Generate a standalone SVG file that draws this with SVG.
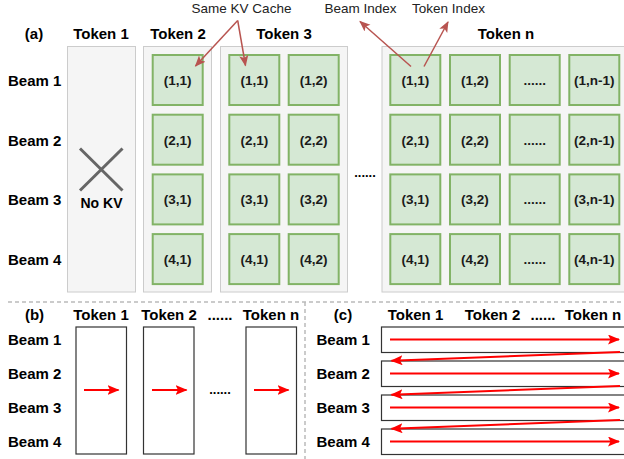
<svg xmlns="http://www.w3.org/2000/svg" width="624" height="459" viewBox="0 0 624 459">
  <style>
    text { font-family: "Liberation Sans", Arial, sans-serif; }
    .hd { font-size: 15px; font-weight: bold; fill: #000; text-anchor: middle; }
    .bm { font-size: 15px; font-weight: bold; fill: #000; }
    .note { font-size: 13.5px; fill: #222; text-anchor: middle; }
    .panel { fill: #f5f5f5; stroke: #cccccc; stroke-width: 1; }
    .kv rect { fill: #d5e8d4; stroke: #82b366; stroke-width: 2; }
    .kv text { font-size: 13.5px; font-weight: bold; fill: #1a1a1a; text-anchor: middle; }
    .sep { stroke: #bbbbbb; stroke-width: 1.5; stroke-dasharray: 4 3; fill: none; }
    .ann { stroke: #b85450; stroke-width: 1.5; fill: none; }
    .flow { stroke: #ff0000; stroke-width: 2; fill: none; }
    .box { fill: #ffffff; stroke: #333333; stroke-width: 1.2; }
  </style>
  <defs>
    <marker id="annHead" markerUnits="userSpaceOnUse" markerWidth="12" markerHeight="10" refX="10" refY="4.5" orient="auto">
      <path d="M0,0 L11,4.5 L0,9 L2.5,4.5 z" fill="#b85450"/>
    </marker>
    <marker id="redHead" markerUnits="userSpaceOnUse" markerWidth="13" markerHeight="11" refX="11" refY="5" orient="auto">
      <path d="M0,0 L12,5 L0,10 L2.5,5 z" fill="#ff0000"/>
    </marker>
  </defs>

  <!-- (a) headers -->
  <g id="a-headers">
    <text class="hd" x="34" y="39">(a)</text>
    <text class="hd" x="101" y="39">Token 1</text>
    <text class="hd" x="178" y="39">Token 2</text>
    <text class="hd" x="284" y="39">Token 3</text>
    <text class="hd" x="506" y="39">Token n</text>
  </g>
  <g id="a-beams">
    <text class="bm" x="8" y="86">Beam 1</text>
    <text class="bm" x="8" y="145.5">Beam 2</text>
    <text class="bm" x="8" y="205">Beam 3</text>
    <text class="bm" x="8" y="264.5">Beam 4</text>
  </g>

  <!-- Token 1 column: no cache -->
  <g id="col-token1">
    <rect class="panel" x="67.5" y="46.5" width="68" height="245.5"/>
    <line x1="80" y1="148.5" x2="122.5" y2="190.5" stroke="#666666" stroke-width="3"/>
    <line x1="122.5" y1="148.5" x2="80" y2="190.5" stroke="#666666" stroke-width="3"/>
    <text x="101.5" y="208" font-size="14" font-weight="bold" text-anchor="middle">No KV</text>
  </g>

  <!-- Token 2 column -->
  <g id="col-token2" class="kv">
    <rect x="143.5" y="46.5" width="68" height="245.5" style="fill:#f5f5f5;stroke:#cccccc;stroke-width:1"/>
    <rect x="152.7" y="55" width="50" height="50"/><text x="177.7" y="85">(1,1)</text>
    <rect x="152.7" y="114.7" width="50" height="50"/><text x="177.7" y="144.7">(2,1)</text>
    <rect x="152.7" y="174.4" width="50" height="50"/><text x="177.7" y="204.4">(3,1)</text>
    <rect x="152.7" y="234.1" width="50" height="50"/><text x="177.7" y="264.1">(4,1)</text>
  </g>

  <!-- Token 3 column -->
  <g id="col-token3" class="kv">
    <rect x="220.5" y="46.5" width="127" height="245.5" style="fill:#f5f5f5;stroke:#cccccc;stroke-width:1"/>
    <rect x="229.3" y="55" width="50" height="50"/><text x="254.3" y="85">(1,1)</text>
    <rect x="288.7" y="55" width="50" height="50"/><text x="313.7" y="85">(1,2)</text>
    <rect x="229.3" y="114.7" width="50" height="50"/><text x="254.3" y="144.7">(2,1)</text>
    <rect x="288.7" y="114.7" width="50" height="50"/><text x="313.7" y="144.7">(2,2)</text>
    <rect x="229.3" y="174.4" width="50" height="50"/><text x="254.3" y="204.4">(3,1)</text>
    <rect x="288.7" y="174.4" width="50" height="50"/><text x="313.7" y="204.4">(3,2)</text>
    <rect x="229.3" y="234.1" width="50" height="50"/><text x="254.3" y="264.1">(4,1)</text>
    <rect x="288.7" y="234.1" width="50" height="50"/><text x="313.7" y="264.1">(4,2)</text>
  </g>

  <text x="365" y="177" font-size="13" font-weight="bold" text-anchor="middle">......</text>

  <!-- Token n column -->
  <g id="col-tokenn" class="kv">
    <rect x="382" y="46.5" width="260" height="245.5" style="fill:#f5f5f5;stroke:#cccccc;stroke-width:1"/>
    <rect x="390.3" y="55" width="50" height="50"/><text x="415.3" y="85">(1,1)</text>
    <rect x="450" y="55" width="50" height="50"/><text x="475" y="85">(1,2)</text>
    <rect x="509.7" y="55" width="50" height="50"/><text x="534.7" y="85">......</text>
    <rect x="569.3" y="55" width="50" height="50"/><text x="594.3" y="85">(1,n-1)</text>
    <rect x="390.3" y="114.7" width="50" height="50"/><text x="415.3" y="144.7">(2,1)</text>
    <rect x="450" y="114.7" width="50" height="50"/><text x="475" y="144.7">(2,2)</text>
    <rect x="509.7" y="114.7" width="50" height="50"/><text x="534.7" y="144.7">......</text>
    <rect x="569.3" y="114.7" width="50" height="50"/><text x="594.3" y="144.7">(2,n-1)</text>
    <rect x="390.3" y="174.4" width="50" height="50"/><text x="415.3" y="204.4">(3,1)</text>
    <rect x="450" y="174.4" width="50" height="50"/><text x="475" y="204.4">(3,2)</text>
    <rect x="509.7" y="174.4" width="50" height="50"/><text x="534.7" y="204.4">......</text>
    <rect x="569.3" y="174.4" width="50" height="50"/><text x="594.3" y="204.4">(3,n-1)</text>
    <rect x="390.3" y="234.1" width="50" height="50"/><text x="415.3" y="264.1">(4,1)</text>
    <rect x="450" y="234.1" width="50" height="50"/><text x="475" y="264.1">(4,2)</text>
    <rect x="509.7" y="234.1" width="50" height="50"/><text x="534.7" y="264.1">......</text>
    <rect x="569.3" y="234.1" width="50" height="50"/><text x="594.3" y="264.1">(4,n-1)</text>
  </g>

  <!-- annotation labels -->
  <g id="notes">
    <text class="note" x="241.5" y="13">Same KV Cache</text>
    <text class="note" x="360.5" y="13">Beam Index</text>
    <text class="note" x="448.5" y="13">Token Index</text>
  </g>

  <!-- connectors -->
  <g id="connectors">
    <line class="ann" x1="237.7" y1="20.5" x2="195.5" y2="66" marker-end="url(#annHead)"/>
    <line class="ann" x1="237.7" y1="20.5" x2="245.5" y2="65.5" marker-end="url(#annHead)"/>
    <line class="ann" x1="411" y1="66.5" x2="360" y2="21.5" marker-end="url(#annHead)"/>
    <line class="ann" x1="424" y1="66.5" x2="448" y2="22" marker-end="url(#annHead)"/>
  </g>

  <!-- separators -->
  <g id="separators">
    <line class="sep" x1="8" y1="302" x2="624" y2="302"/>
    <line class="sep" x1="305" y1="302" x2="305" y2="459"/>
  </g>

  <!-- (b) per-token layout -->
  <g id="b-panel">
    <text class="hd" x="34.5" y="319.5">(b)</text>
    <text class="hd" x="101" y="319.5">Token 1</text>
    <text class="hd" x="169" y="319.5">Token 2</text>
    <text class="hd" x="220" y="319.5">......</text>
    <text class="hd" x="271" y="319.5">Token n</text>
    <text class="bm" x="8" y="344.5">Beam 1</text>
    <text class="bm" x="8" y="378.5">Beam 2</text>
    <text class="bm" x="8" y="412.5">Beam 3</text>
    <text class="bm" x="8" y="446.5">Beam 4</text>
    <rect class="box" x="76" y="327" width="50.5" height="127"/>
    <rect class="box" x="143.5" y="327" width="50.5" height="127"/>
    <rect class="box" x="246" y="327" width="50.5" height="127"/>
    <line class="flow" x1="84" y1="390" x2="118.5" y2="390" marker-end="url(#redHead)"/>
    <line class="flow" x1="152" y1="390" x2="186.5" y2="390" marker-end="url(#redHead)"/>
    <line class="flow" x1="254" y1="390" x2="288.5" y2="390" marker-end="url(#redHead)"/>
    <text x="220" y="394" font-size="13" font-weight="bold" text-anchor="middle">......</text>
  </g>

  <!-- (c) per-beam layout -->
  <g id="c-panel">
    <text class="hd" x="343" y="319.5">(c)</text>
    <text class="hd" x="415.5" y="319.5">Token 1</text>
    <text class="hd" x="492.5" y="319.5">Token 2</text>
    <text class="hd" x="543" y="319.5">......</text>
    <text class="hd" x="593" y="319.5">Token n</text>
    <text class="bm" x="316.5" y="344.5">Beam 1</text>
    <text class="bm" x="316.5" y="378.5">Beam 2</text>
    <text class="bm" x="316.5" y="412.5">Beam 3</text>
    <text class="bm" x="316.5" y="446.5">Beam 4</text>
    <rect class="box" x="381.5" y="327" width="260" height="25.5"/>
    <rect class="box" x="381.5" y="361" width="260" height="25.5"/>
    <rect class="box" x="381.5" y="395" width="260" height="25.5"/>
    <rect class="box" x="381.5" y="429" width="260" height="25.5"/>
    <line class="flow" x1="390" y1="339.5" x2="619" y2="339.5" marker-end="url(#redHead)"/>
    <line class="flow" x1="390" y1="373.5" x2="619" y2="373.5" marker-end="url(#redHead)"/>
    <line class="flow" x1="390" y1="407.5" x2="619" y2="407.5" marker-end="url(#redHead)"/>
    <line class="flow" x1="390" y1="441.5" x2="619" y2="441.5" marker-end="url(#redHead)"/>
    <line class="flow" x1="620" y1="352" x2="391.5" y2="360.7" marker-end="url(#redHead)"/>
    <line class="flow" x1="620" y1="386" x2="391.5" y2="394.7" marker-end="url(#redHead)"/>
    <line class="flow" x1="620" y1="420" x2="391.5" y2="428.7" marker-end="url(#redHead)"/>
  </g>
</svg>
